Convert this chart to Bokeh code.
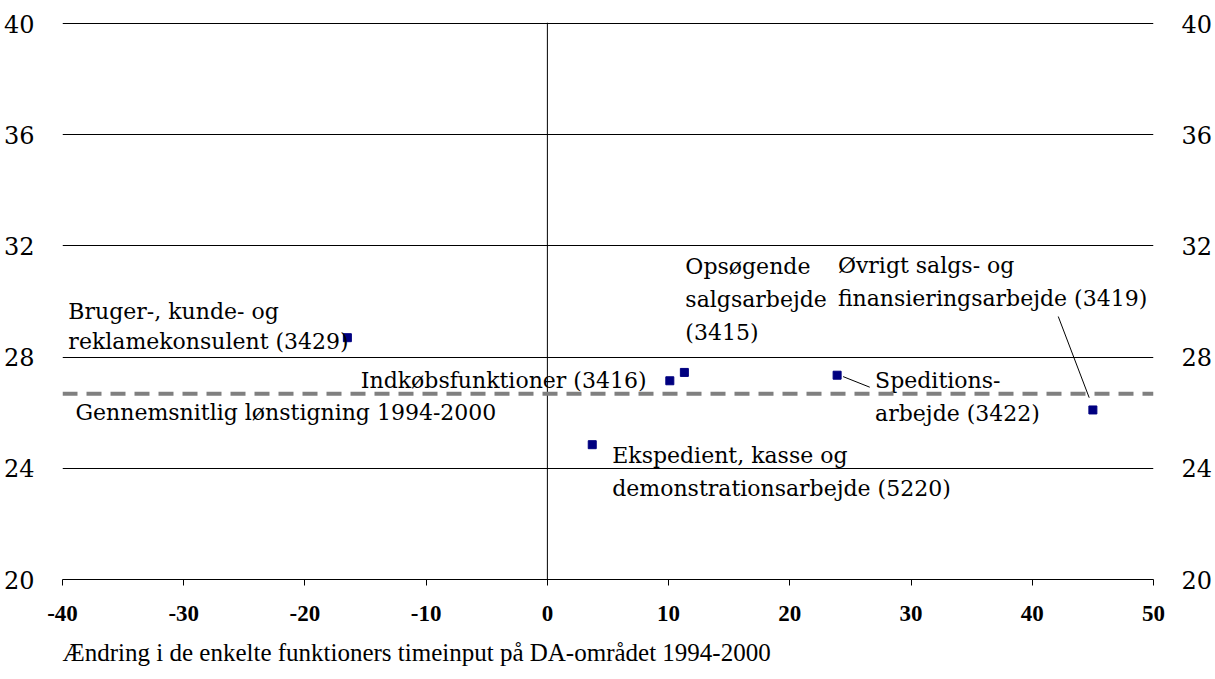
from bokeh.plotting import figure
from bokeh.models import (Range1d, LinearAxis, FixedTicker, Span, Title, ColumnDataSource)
from bokeh.core.properties import value
from bokeh.embed import file_html
from bokeh.resources import INLINE

# ---- data ----
names = [
    "Bruger-, kunde- og\nreklamekonsulent (3429)",
    "Indkøbsfunktioner (3416)",
    "Opsøgende\nsalgsarbejde\n(3415)",
    "Speditions-\narbejde (3422)",
    "Øvrigt salgs- og\nfinansieringsarbejde (3419)",
    "Ekspedient, kasse og\ndemonstrationsarbejde (5220)",
]
x_change = [-16.5, 10.1, 11.3, 23.9, 45.0, 3.7]
y_wage = [28.7, 27.15, 27.45, 27.35, 26.1, 24.85]
avg_wage = 26.68
avg_label = "Gennemsnitlig lønstigning 1994-2000"
x_ticks = [-40, -30, -20, -10, 0, 10, 20, 30, 40, 50]
y_ticks = [20, 24, 28, 32, 36, 40]
x_title = "Ændring i de enkelte funktioners timeinput på DA-området 1994-2000"

# ---- layout / style ----
W, H = 1215, 679
ML, MR, MT, MB = 62, 60, 22, 99
FONT = "'Times New Roman', 'Liberation Serif', serif"
SFONT = "DejaVu Serif"
LABEL_PX = "22px"
# label placement in pixels relative to each point: (dx, dy to first line, line spacing)
label_offsets = [(-279, -26, 30), (-309, 0, 33), (1, -106, 33),
                 (38, 5, 33), (-255, -144, 33), (20, 11, 33)]
avg_label_offset = (13, 19)
# leader lines (pixel offsets from point): index -> (x0, y0, x1, y1)
leaders = {3: (6, 1.4, 32.7, 12), 4: (-34.7, -93.6, -3.7, -12.3)}

Y0, Y1 = 20, 40.04
p = figure(width=W, height=H, x_range=Range1d(-40, 50), y_range=Range1d(Y0, Y1),
           output_backend="svg", toolbar_location=None,
           min_border_left=ML, min_border_right=MR, min_border_top=MT,
           min_border_bottom=MB)
p.outline_line_color = None
p.background_fill_color = "white"
p.border_fill_color = "white"

fw = W - ML - MR
fh = H - MT - MB
xpp = 90.0 / fw
ypp = (Y1 - Y0) / fh

xa = p.xaxis[0]
xa.ticker = FixedTicker(ticks=x_ticks)
xa.major_label_overrides = {t: str(t) for t in x_ticks}
xa.minor_tick_line_color = None
xa.major_tick_in = 0
xa.major_tick_out = 6
xa.axis_line_color = "black"
xa.major_tick_line_color = "black"
xa.major_label_text_font = FONT
xa.major_label_text_font_style = "bold"
xa.major_label_text_font_size = "23px"
xa.major_label_text_color = "black"
xa.major_label_standoff = 20

ya = p.yaxis[0]
ra = LinearAxis()
p.add_layout(ra, "right")
for ax in (ya, ra):
    ax.ticker = FixedTicker(ticks=y_ticks)
    ax.axis_line_color = None
    ax.major_tick_line_color = None
    ax.minor_tick_line_color = None
    ax.major_label_text_font = SFONT
    ax.major_label_text_font_size = "24px"
    ax.major_label_text_color = "black"
    ax.major_label_standoff = 22

p.xgrid.visible = False
p.ygrid.ticker = FixedTicker(ticks=y_ticks)
p.ygrid.grid_line_color = "black"
p.ygrid.grid_line_width = 1

p.add_layout(Span(location=0, dimension="height", line_color="black", line_width=1))
p.add_layout(Span(location=avg_wage, dimension="width", line_color="#808080",
                  line_width=4, line_dash="15 9"))

p.scatter(x_change, y_wage, marker="square", size=8, color="#000080")

# point labels (text glyph, pixel offsets from each point)
tx, ty, tt, txo, tyo = [], [], [], [], []
for i, name in enumerate(names):
    dx, dy, sp = label_offsets[i]
    for j, line in enumerate(name.split("\n")):
        tx.append(x_change[i]); ty.append(y_wage[i]); tt.append(line)
        txo.append(dx); tyo.append(dy + j * sp)
tx.append(-40); ty.append(avg_wage); tt.append(avg_label)
txo.append(avg_label_offset[0]); tyo.append(avg_label_offset[1])
src = ColumnDataSource(dict(x=tx, y=ty, text=tt, xo=txo, yo=tyo))
p.text("x", "y", text="text", x_offset="xo", y_offset="yo", source=src,
       text_font=value(SFONT), text_font_size=value(LABEL_PX),
       text_color="black", text_align="left", text_baseline="alphabetic")

sx0, sy0, sx1, sy1 = [], [], [], []
for i, (a, b, c, d) in leaders.items():
    sx0.append(x_change[i] + a * xpp); sy0.append(y_wage[i] - b * ypp)
    sx1.append(x_change[i] + c * xpp); sy1.append(y_wage[i] - d * ypp)
p.segment(sx0, sy0, sx1, sy1, line_color="black", line_width=1)

p.add_layout(Title(text=x_title, align="left", text_font=FONT, text_font_size="25px",
                   text_font_style="normal", text_color="black", standoff=27), "below")

open("out.html", "w").write(file_html(p, INLINE))
